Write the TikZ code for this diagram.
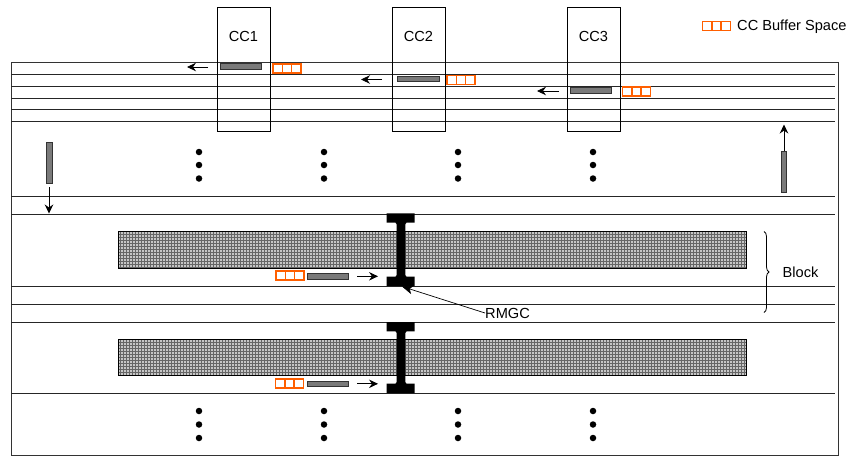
\documentclass[tikz,border=0pt]{standalone}
\usepackage{fontspec}
\setmainfont{Liberation Sans}
\usetikzlibrary{patterns,arrows.meta,decorations.pathreplacing}
\definecolor{bufor}{HTML}{FF5F00}
\definecolor{barfill}{HTML}{7A7A7A}
\begin{document}
\begin{tikzpicture}[x=1pt,y=-1pt,
  lbl/.style={font=\fontsize{14.6}{17}\selectfont, inner sep=0pt},
  lane/.style={line width=0.9pt, draw=black!85},
  ccbox/.style={draw, line width=0.9pt},
  pkt/.style={draw=black!80, fill=barfill, line width=0.7pt},
  cell/.style={draw=bufor, line width=1.6pt},
  mv/.style={-{Stealth[length=9pt,width=8.5pt,inset=3pt]}, line width=0.8pt},
  blockbar/.style={draw=black, line width=0.8pt},
  ibeam/.style={fill=black},
  dot/.style={circle, fill=black, inner sep=0pt, minimum size=6.5pt}
]
\useasboundingbox (0,0) rectangle (850,456);

% outer frame
\draw[line width=0.9pt, draw=black!80] (11,62) rectangle (838,455);

% channel lines of the top bank
\foreach \y in {74,86,98,109,121}
  \draw[lane] (11,\y) -- (835,\y);
% lines of the lower banks
\foreach \y in {196,214,286,304,322,393}
  \draw[lane] (11,\y) -- (835,\y);

% column controllers
\foreach \n/\x in {1/217,2/392,3/567}{
  \draw[ccbox] (\x,7) rectangle ++(53,124);
  \node[lbl] (cc\n) at (\x+26.5,36) {CC\n};
}

% buffer of three cells: \bufcells{x}{y}
\newcommand{\bufcells}[2]{%
  \draw[cell] (#1,#2) rectangle ++(28,9);
  \draw[cell] (#1+9.33,#2) -- ++(0,9);
  \draw[cell] (#1+18.67,#2) -- ++(0,9);
}

% packets under the column controllers
\draw[pkt] (220.5,63.5) rectangle (261.5,69.5);
\bufcells{273}{64}
\coordinate (a1s) at (208,67); \coordinate (a1e) at (187,67);
\draw[mv] (a1s) -- (a1e);

\draw[pkt] (397.5,76) rectangle (439.5,81.5);
\bufcells{447}{75.5}
\coordinate (a2s) at (382,79.5); \coordinate (a2e) at (361,79.5);
\draw[mv] (a2s) -- (a2e);

\draw[pkt] (570,87.5) rectangle (611.5,93);
\bufcells{622.5}{87}
\coordinate (a3s) at (559,91); \coordinate (a3e) at (537,91);
\draw[mv] (a3s) -- (a3e);

% legend
\bufcells{702.5}{21.5}
\node[lbl, anchor=west] (legend) at (737,26.5) {CC Buffer Space};

% vertical packets on the sides
\draw[pkt] (46,142.5) rectangle (52,183.5);
\coordinate (lvs) at (49,187); \coordinate (lve) at (49,213.5);
\draw[mv] (lvs) -- (lve);
\draw[pkt] (781,151) rectangle (786.5,192);
\coordinate (rvs) at (784,151); \coordinate (rve) at (784,124.5);
\draw[mv] (rvs) -- (rve);

% vertical ellipses
\foreach \x [count=\i] in {199,324,458,593}{
  \foreach \y [count=\j] in {152,165,178.5}
    \node[dot] (dt\i\j) at (\x,\y) {};
  \foreach \y [count=\j] in {411,424.5,438}
    \node[dot] (db\i\j) at (\x,\y) {};
}

% memory blocks with grid texture
\foreach \ya/\yb in {231.5/268.5,339.5/375}{
  \fill[gray!45] (118,\ya) rectangle (746,\yb);
  \fill[pattern=grid, pattern color=black!60] (118,\ya) rectangle (746,\yb);
  \draw[blockbar] (118,\ya) rectangle (746,\yb);
}

% I-shaped RMGC connectors
\newcommand{\ibeamat}[2]{%
  \fill[ibeam] (386.7,#1) -- (414.7,#1) -- (414.7,#1+9.4) -- (406.5,#1+9.4)
     -- (405.3,#1+11) -- (405.3,#2-11) -- (406.5,#2-9.4) -- (414.7,#2-9.4)
     -- (414.7,#2) -- (386.7,#2) -- (386.7,#2-9.4) -- (395.5,#2-9.4)
     -- (396.7,#2-11) -- (396.7,#1+11) -- (395.5,#1+9.4) -- (386.7,#1+9.4) -- cycle;
}
\ibeamat{213.3}{286}
\ibeamat{322}{393}

% packets moving towards the RMGC
\bufcells{276}{271}
\draw[pkt] (307.5,273.5) rectangle (348.5,279);
\coordinate (b1s) at (357,276.3); \coordinate (b1e) at (378,276.3);
\draw[mv] (b1s) -- (b1e);

\bufcells{275.5}{379}
\draw[pkt] (307.5,381) rectangle (348.5,386.5);
\coordinate (b2s) at (357,383.8); \coordinate (b2e) at (378,383.8);
\draw[mv] (b2s) -- (b2e);

% RMGC label with pointer
\node[lbl, anchor=west] (rmgc) at (485,313) {RMGC};
\coordinate (rtip) at (402,286.5);
\draw[-{Stealth[length=11pt,width=9pt,inset=3pt]}, line width=0.7pt] (rmgc.west) -- (rtip);

% brace marking one block
\draw[decorate, decoration={brace, amplitude=5pt}, line width=0.8pt]
  (764,231.5) -- (764,312.5);
\node[lbl, anchor=west] (blk) at (782.5,272) {Block};
\end{tikzpicture}
\end{document}
